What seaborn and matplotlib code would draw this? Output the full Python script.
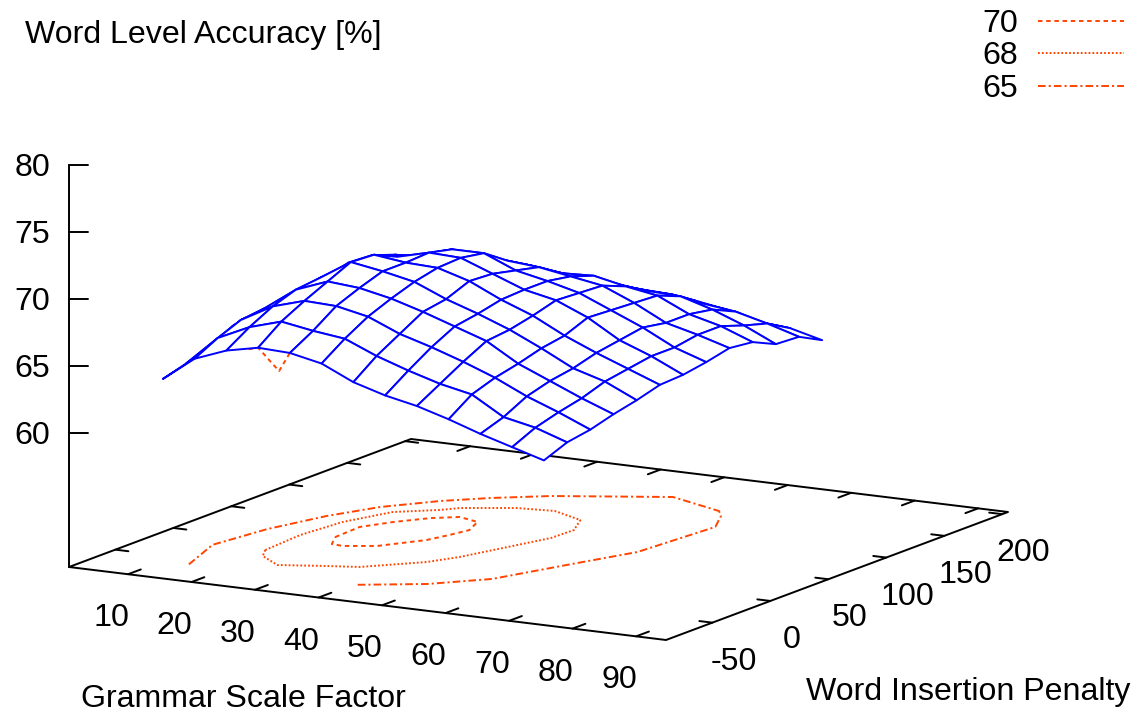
import matplotlib
matplotlib.use("Agg")
import matplotlib.pyplot as plt
import numpy as np
import pandas as pd
import seaborn as sns

# ---- data ----
x_grid = [10, 15, 20, 25, 30, 35, 40, 45, 50, 55, 60, 65, 70]
y_grid = [-60, -40, -20, 0, 20, 40, 60, 80, 100, 120, 140, 160, 180]

z_ym60 = [63.6, 65.4, 66.3, 66.8, 66.7, 66.2, 65.1, 64.4, 63.9, 63.2, 62.4, 61.7, 61.0]
z_ym40 = [64.1, 66.3, 67.4, 68.1, 67.7, 67.4, 66.4, 65.6, 64.9, 64.4, 63.0, 62.5, 61.7]
z_ym20 = [64.7, 67.0, 68.3, 69.0, 68.9, 68.4, 67.4, 66.7, 65.9, 65.0, 63.9, 63.0, 62.0]
z_y0 = [65.6, 67.2, 68.9, 69.8, 69.6, 69.1, 68.4, 67.6, 66.8, 65.4, 64.4, 63.4, 62.5]
z_y20 = [65.9, 67.3, 69.1, 70.6, 70.2, 69.7, 68.7, 67.9, 67.0, 65.9, 64.7, 64.0, 62.9]
z_y40 = [66.0, 67.5, 69.2, 70.5, 70.2, 70.1, 69.4, 68.3, 67.4, 66.2, 65.2, 64.3, 63.4]
z_y60 = [66.4, 67.8, 69.2, 69.7, 70.3, 70.2, 69.3, 68.4, 67.9, 66.9, 65.5, 64.6, 63.5]
z_y80 = [66.6, 68.0, 68.8, 69.2, 69.9, 69.9, 68.9, 68.4, 67.8, 66.8, 65.8, 64.6, 63.8]
z_y100 = [67.1, 67.7, 68.1, 68.6, 68.8, 68.7, 68.5, 68.1, 67.7, 66.7, 65.5, 64.9, 64.2]
z_y120 = [67.0, 67.2, 67.5, 68.0, 67.8, 67.7, 67.4, 67.5, 67.0, 66.6, 65.5, 64.9, 64.0]
z_y140 = [66.4, 66.5, 66.8, 66.9, 66.7, 66.5, 66.4, 66.1, 66.0, 65.9, 65.2, 64.3, 63.2]
z_y160 = [65.5, 65.8, 65.9, 66.0, 65.8, 65.6, 65.4, 65.2, 65.1, 64.7, 64.4, 63.8, 63.1]
z_y180 = [64.6, 64.9, 65.0, 65.0, 64.7, 64.7, 64.4, 64.2, 64.0, 63.6, 63.0, 62.8, 62.2]

c65_x = [14.1, 10.7, 12.2, 15.1, 18.6, 23.8, 28.8, 35.4, 50.2, 60.1, 61.9, 64.7, 63.4, 59.1, 54.7, 49.8, 48.6, 40.4]
c65_y = [-60, -21, 18, 53.4, 80.3, 103.4, 119.3, 135.7, 159.9, 145.3, 137.1, 116.9, 56.7, 19.1, -20.9, -39, -43.4, -60]
c68_x = [18.6, 18.0, 18.9, 21.7, 26.6, 28.4, 35.1, 40.6, 46.5, 48.9, 48.7, 43.9, 42.5, 41.6, 35.2, 31.0, 24.8, 20.2, 18.6]
c68_y = [-18.8, 14.7, 46.4, 74.4, 87.8, 95.5, 107.5, 110.5, 100.2, 81.5, 62.8, 10.5, 1, -5.2, -28.2, -33.5, -42.3, -29.7, -18.8]
c70_x = [22.8, 22.5, 24.9, 28.1, 31.2, 34.9, 36.5, 35.7, 34.6, 30.6, 26.5, 24.6, 22.8]
c70_y = [18.6, 41.3, 57, 71.8, 79.9, 75, 59.2, 46.6, 33, 12, 4.7, 5.8, 18.6]
# small contour piece seen below the surface's front edge
edge_x = [23.5, 25.0, 28.3, 30.0]
edge_y = [-60, -60, -60, -60]
edge_z = [66.6, 66.8, 65.25, 66.7]

x_ticks = [10, 20, 30, 40, 50, 60, 70, 80, 90]
y_ticks = [-50, 0, 50, 100, 150, 200]
z_ticks = [60, 65, 70, 75, 80]
legend_levels = ["70", "68", "65"]
title_text = "Word Level Accuracy [%]"
x_label = "Grammar Scale Factor"
y_label = "Word Insertion Penalty"

# ---- projection of the 3D box onto the page (orthographic view) ----
W, H = 1132, 712
X_MIN, X_MAX, Y_MIN, Y_MAX, Z_BASE, Z_MAX = 0.7, 94.7, -90, 205, 50, 80
ORIGIN = np.array([69.0, 567.0])
UX = np.array([597.0, 73.0]) / (X_MAX - X_MIN)
UY = np.array([342.0, -128.0]) / (Y_MAX - Y_MIN)
UZ = np.array([0.0, -13.4])


def proj(x, y, z=Z_BASE):
    x, y, z = np.asarray(x, float), np.asarray(y, float), np.asarray(z, float)
    p = (x - X_MIN)[..., None] * UX + (y - Y_MIN)[..., None] * UY + (z - Z_BASE)[..., None] * UZ
    return ORIGIN + p


sns.set_theme(style="white")
plt.rcParams["font.family"] = ["Liberation Sans", "DejaVu Sans"]
plt.rcParams["lines.scale_dashes"] = False

fig = plt.figure(figsize=(W / 100, H / 100), dpi=100, facecolor="white")
ax = fig.add_axes([0, 0, 1, 1])

BLACK = "#000000"
BLUE = "#0000FF"
ORANGE = "#FF4500"
LW = 1.4
FS = 23.1


def line(pts, color=BLACK, lw=LW, zorder=2, ls="-"):
    pts = np.asarray(pts)
    df = pd.DataFrame({"sx": pts[:, 0], "sy": pts[:, 1]})
    sns.lineplot(data=df, x="sx", y="sy", sort=False, estimator=None, color=color,
                 linewidth=lw, linestyle=ls, zorder=zorder, ax=ax, legend=False,
                 solid_capstyle="round", dash_capstyle="butt")


# box
line(proj([X_MIN, X_MAX, X_MAX, X_MIN, X_MIN], [Y_MIN, Y_MIN, Y_MAX, Y_MAX, Y_MIN]))
line(proj([X_MIN, X_MIN], [Y_MIN, Y_MIN], [Z_BASE, Z_MAX]))

# ticks
tx = 2.05  # tick length in x units
ty = 11.0  # tick length in y units
for t in x_ticks:
    line(proj([t, t], [Y_MIN, Y_MIN + ty]))
    line(proj([t, t], [Y_MAX, Y_MAX - ty]))
    p = proj(t, Y_MIN)
    ax.text(p[0] - 17, p[1] + 44, str(t), ha="center", va="center", fontsize=FS, color=BLACK)
for t in y_ticks:
    line(proj([X_MIN, X_MIN + tx], [t, t]))
    line(proj([X_MAX, X_MAX - tx], [t, t]))
    p = proj(X_MAX, t)
    ax.text(p[0] + 21, p[1] + 39, str(t), ha="center", va="center", fontsize=FS, color=BLACK)
for t in z_ticks:
    p = proj(X_MIN, Y_MIN, t)
    line([p, p + np.array([19, 0])])
    ax.text(p[0] - 19, p[1] + 3, str(t), ha="right", va="center", fontsize=FS, color=BLACK)

# contours on the base
S70 = (0, (3.2, 2.7))
S68 = (0, (1.3, 1.5))
S65 = (0, (5.5, 2.2, 1.5, 2.2))
line(proj(c70_x, c70_y), ORANGE, 1.4, 3, S70)
line(proj(c68_x, c68_y), ORANGE, 1.4, 3, S68)
line(proj(c65_x, c65_y), ORANGE, 1.4, 3, S65)
line(proj(edge_x, edge_y, edge_z), ORANGE, 1.4, 3, S70)

# surface, painted from back to front
z_rows = [z_ym60, z_ym40, z_ym20, z_y0, z_y20, z_y40, z_y60, z_y80, z_y100, z_y120, z_y140, z_y160, z_y180]
Z = np.array(z_rows)
XX, YY = np.meshgrid(x_grid, y_grid)
S = proj(XX, YY, Z)
order = 10
for j in range(len(y_grid) - 2, -1, -1):
    for i in range(len(x_grid) - 1):
        quad = np.array([S[j, i], S[j, i + 1], S[j + 1, i + 1], S[j + 1, i]])
        ax.fill(quad[:, 0], quad[:, 1], facecolor="white", edgecolor=BLUE, linewidth=LW,
                zorder=order, joinstyle="round")
        order += 1

# texts
ax.text(25, 35, title_text, ha="left", va="center", fontsize=FS, color=BLACK)
ax.text(243, 699, x_label, ha="center", va="center", fontsize=FS, color=BLACK)
ax.text(968, 692, y_label, ha="center", va="center", fontsize=FS, color=BLACK)

# legend
for lev, yy, st in zip(legend_levels, [21, 53, 86], [S70, S68, S65]):
    ax.text(1018, yy + 3, lev, ha="right", va="center", fontsize=FS, color=BLACK)
    line([[1038, yy], [1124, yy]], ORANGE, 1.4, 3, st)

ax.set_xlim(0, W)
ax.set_ylim(H, 0)
ax.set_axis_off()
fig.savefig("out.png", dpi=100, facecolor="white")
